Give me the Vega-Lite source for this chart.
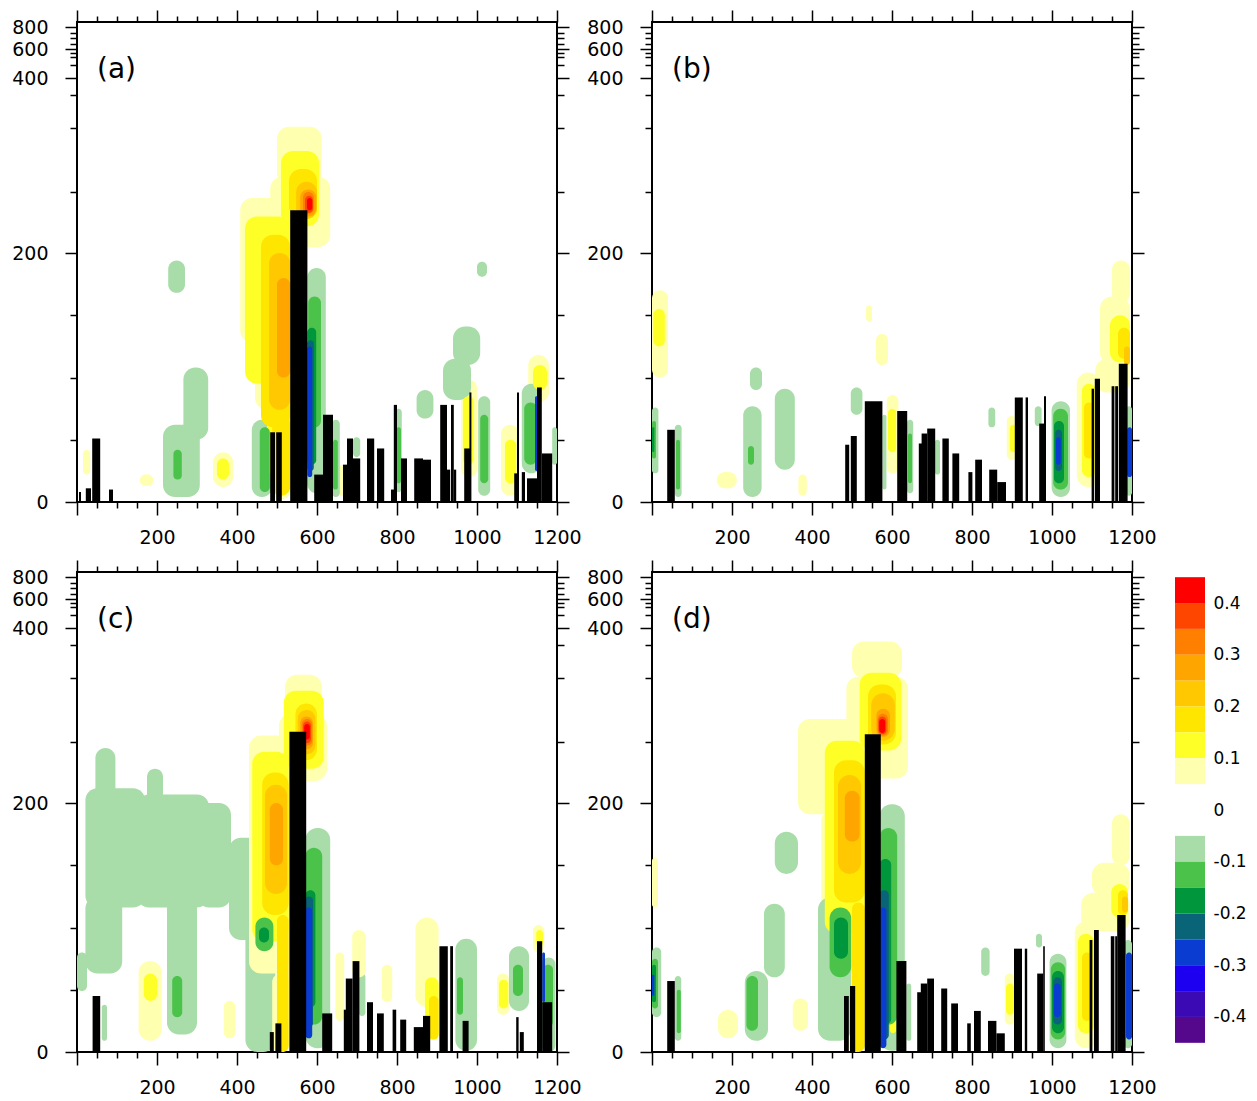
{
"$schema": "https://vega.github.io/schema/vega-lite/v6.json",
"padding": {"left": 10, "top": 8, "right": 0, "bottom": 0},
"background": "white",
"config": {
  "view": {"stroke": "black", "strokeWidth": 2},
  "axis": {"grid": false, "domain": false, "title": null, "labelFont": "DejaVu Sans", "labelFontSize": 19, "labelColor": "black", "tickColor": "black", "tickWidth": 1.5, "labelOverlap": false, "labelFlush": false}
},
"datasets": {
"blobs": [
{"p":"a","x":408,"x2":535,"y":128,"y2":245,"v":0.075},
{"p":"a","x":445,"x2":535,"y":74,"y2":130,"v":0.075},
{"p":"a","x":483,"x2":535,"y":2,"y2":76,"v":0.075},
{"p":"a","x":500,"x2":612,"y":255,"y2":302,"v":0.075},
{"p":"a","x":483,"x2":633,"y":205,"y2":262,"v":0.075},
{"p":"a","x":15,"x2":33,"y":22,"y2":42,"v":0.075},
{"p":"a","x":157,"x2":191,"y":13,"y2":22,"v":0.075},
{"p":"a","x":340,"x2":390,"y":12,"y2":40,"v":0.075},
{"p":"a","x":1128,"x2":1180,"y":80,"y2":118,"v":0.075},
{"p":"a","x":1060,"x2":1105,"y":5,"y2":62,"v":0.075},
{"p":"a","x":960,"x2":1000,"y":20,"y2":98,"v":0.075},
{"p":"a","x":655,"x2":672,"y":5,"y2":30,"v":0.075},
{"p":"a","x":228,"x2":270,"y":168,"y2":194,"v":-0.075},
{"p":"a","x":266,"x2":328,"y":50,"y2":108,"v":-0.075},
{"p":"a","x":215,"x2":307,"y":4,"y2":62,"v":-0.075},
{"p":"a","x":437,"x2":488,"y":4,"y2":66,"v":-0.075},
{"p":"a","x":576,"x2":622,"y":7,"y2":188,"v":-0.075},
{"p":"a","x":940,"x2":1008,"y":110,"y2":141,"v":-0.075},
{"p":"a","x":915,"x2":985,"y":82,"y2":115,"v":-0.075},
{"p":"a","x":849,"x2":891,"y":67,"y2":90,"v":-0.075},
{"p":"a","x":1000,"x2":1025,"y":181,"y2":193,"v":-0.075},
{"p":"a","x":1112,"x2":1160,"y":23,"y2":95,"v":-0.075},
{"p":"a","x":1003,"x2":1033,"y":5,"y2":85,"v":-0.075},
{"p":"a","x":795,"x2":812,"y":8,"y2":75,"v":-0.075},
{"p":"a","x":637,"x2":657,"y":4,"y2":66,"v":-0.075},
{"p":"a","x":690,"x2":708,"y":36,"y2":52,"v":-0.075},
{"p":"a","x":1188,"x2":1200,"y":30,"y2":60,"v":-0.075},
{"p":"a","x":420,"x2":533,"y":95,"y2":230,"v":0.125},
{"p":"a","x":475,"x2":533,"y":20,"y2":100,"v":0.125},
{"p":"a","x":510,"x2":605,"y":222,"y2":282,"v":0.125},
{"p":"a","x":1140,"x2":1175,"y":90,"y2":110,"v":0.125},
{"p":"a","x":1070,"x2":1098,"y":15,"y2":50,"v":0.125},
{"p":"a","x":965,"x2":992,"y":30,"y2":85,"v":0.125},
{"p":"a","x":350,"x2":380,"y":18,"y2":35,"v":0.125},
{"p":"a","x":578,"x2":610,"y":60,"y2":165,"v":-0.125},
{"p":"a","x":241,"x2":262,"y":18,"y2":42,"v":-0.125},
{"p":"a","x":457,"x2":482,"y":8,"y2":60,"v":-0.125},
{"p":"a","x":1118,"x2":1150,"y":30,"y2":80,"v":-0.125},
{"p":"a","x":1008,"x2":1028,"y":15,"y2":70,"v":-0.125},
{"p":"a","x":798,"x2":810,"y":15,"y2":60,"v":-0.125},
{"p":"a","x":640,"x2":652,"y":10,"y2":50,"v":-0.125},
{"p":"a","x":460,"x2":533,"y":60,"y2":215,"v":0.175},
{"p":"a","x":488,"x2":533,"y":5,"y2":70,"v":0.175},
{"p":"a","x":530,"x2":600,"y":228,"y2":268,"v":0.175},
{"p":"a","x":576,"x2":598,"y":30,"y2":140,"v":-0.175},
{"p":"a","x":480,"x2":533,"y":74,"y2":200,"v":0.225},
{"p":"a","x":548,"x2":600,"y":228,"y2":258,"v":0.225},
{"p":"a","x":576,"x2":592,"y":25,"y2":130,"v":-0.225},
{"p":"a","x":500,"x2":533,"y":100,"y2":180,"v":0.275},
{"p":"a","x":558,"x2":598,"y":230,"y2":252,"v":0.275},
{"p":"a","x":576,"x2":588,"y":20,"y2":125,"v":-0.275},
{"p":"a","x":1145,"x2":1152,"y":25,"y2":85,"v":-0.275},
{"p":"a","x":565,"x2":592,"y":232,"y2":250,"v":0.325},
{"p":"a","x":570,"x2":590,"y":233,"y2":247,"v":0.375},
{"p":"a","x":575,"x2":588,"y":235,"y2":245,"v":0.425},

{"p":"b","x":0,"x2":40,"y":100,"y2":170,"v":0.075},
{"p":"b","x":162,"x2":212,"y":11,"y2":24,"v":0.075},
{"p":"b","x":366,"x2":387,"y":5,"y2":22,"v":0.075},
{"p":"b","x":535,"x2":550,"y":145,"y2":158,"v":0.075},
{"p":"b","x":560,"x2":590,"y":110,"y2":135,"v":0.075},
{"p":"b","x":587,"x2":616,"y":23,"y2":86,"v":0.075},
{"p":"b","x":887,"x2":912,"y":34,"y2":69,"v":0.075},
{"p":"b","x":1062,"x2":1120,"y":12,"y2":104,"v":0.075},
{"p":"b","x":1150,"x2":1195,"y":160,"y2":194,"v":0.075},
{"p":"b","x":1120,"x2":1195,"y":110,"y2":165,"v":0.075},
{"p":"b","x":1108,"x2":1195,"y":88,"y2":115,"v":0.075},
{"p":"b","x":0,"x2":16,"y":23,"y2":76,"v":-0.075},
{"p":"b","x":57,"x2":74,"y":4,"y2":62,"v":-0.075},
{"p":"b","x":245,"x2":275,"y":90,"y2":108,"v":-0.075},
{"p":"b","x":228,"x2":274,"y":4,"y2":77,"v":-0.075},
{"p":"b","x":307,"x2":357,"y":26,"y2":91,"v":-0.075},
{"p":"b","x":497,"x2":526,"y":70,"y2":92,"v":-0.075},
{"p":"b","x":576,"x2":586,"y":10,"y2":70,"v":-0.075},
{"p":"b","x":637,"x2":653,"y":7,"y2":66,"v":-0.075},
{"p":"b","x":707,"x2":720,"y":22,"y2":50,"v":-0.075},
{"p":"b","x":841,"x2":858,"y":60,"y2":76,"v":-0.075},
{"p":"b","x":957,"x2":974,"y":61,"y2":77,"v":-0.075},
{"p":"b","x":999,"x2":1045,"y":4,"y2":81,"v":-0.075},
{"p":"b","x":1185,"x2":1200,"y":5,"y2":77,"v":-0.075},
{"p":"b","x":3,"x2":32,"y":125,"y2":155,"v":0.125},
{"p":"b","x":1075,"x2":1110,"y":20,"y2":95,"v":0.125},
{"p":"b","x":1145,"x2":1195,"y":112,"y2":150,"v":0.125},
{"p":"b","x":895,"x2":910,"y":40,"y2":62,"v":0.125},
{"p":"b","x":590,"x2":610,"y":40,"y2":75,"v":0.125},
{"p":"b","x":0,"x2":10,"y":35,"y2":65,"v":-0.125},
{"p":"b","x":60,"x2":70,"y":10,"y2":50,"v":-0.125},
{"p":"b","x":240,"x2":255,"y":30,"y2":45,"v":-0.125},
{"p":"b","x":1003,"x2":1040,"y":10,"y2":75,"v":-0.125},
{"p":"b","x":640,"x2":650,"y":15,"y2":55,"v":-0.125},
{"p":"b","x":1080,"x2":1105,"y":35,"y2":80,"v":0.175},
{"p":"b","x":1165,"x2":1195,"y":115,"y2":140,"v":0.175},
{"p":"b","x":1005,"x2":1030,"y":15,"y2":65,"v":-0.175},
{"p":"b","x":0,"x2":6,"y":40,"y2":60,"v":-0.175},
{"p":"b","x":1180,"x2":1195,"y":110,"y2":125,"v":0.225},
{"p":"b","x":1008,"x2":1025,"y":25,"y2":58,"v":-0.225},
{"p":"b","x":1010,"x2":1022,"y":30,"y2":52,"v":-0.275},
{"p":"b","x":1188,"x2":1200,"y":20,"y2":60,"v":-0.275},

{"p":"c","x":21,"x2":170,"y":116,"y2":212,"v":-0.075},
{"p":"c","x":150,"x2":330,"y":116,"y2":207,"v":-0.075},
{"p":"c","x":300,"x2":385,"y":116,"y2":200,"v":-0.075},
{"p":"c","x":46,"x2":96,"y":195,"y2":245,"v":-0.075},
{"p":"c","x":175,"x2":215,"y":190,"y2":228,"v":-0.075},
{"p":"c","x":380,"x2":496,"y":90,"y2":172,"v":-0.075},
{"p":"c","x":21,"x2":113,"y":63,"y2":125,"v":-0.075},
{"p":"c","x":225,"x2":300,"y":14,"y2":125,"v":-0.075},
{"p":"c","x":421,"x2":496,"y":0,"y2":100,"v":-0.075},
{"p":"c","x":0,"x2":25,"y":49,"y2":80,"v":-0.075},
{"p":"c","x":62,"x2":75,"y":9,"y2":38,"v":-0.075},
{"p":"c","x":571,"x2":633,"y":3,"y2":180,"v":-0.075},
{"p":"c","x":704,"x2":721,"y":29,"y2":63,"v":-0.075},
{"p":"c","x":946,"x2":1000,"y":1,"y2":91,"v":-0.075},
{"p":"c","x":1080,"x2":1130,"y":33,"y2":85,"v":-0.075},
{"p":"c","x":1163,"x2":1196,"y":0,"y2":76,"v":-0.075},
{"p":"c","x":430,"x2":530,"y":63,"y2":255,"v":0.075},
{"p":"c","x":488,"x2":530,"y":0,"y2":63,"v":0.075},
{"p":"c","x":520,"x2":612,"y":270,"y2":305,"v":0.075},
{"p":"c","x":505,"x2":625,"y":218,"y2":272,"v":0.075},
{"p":"c","x":154,"x2":212,"y":9,"y2":73,"v":0.075},
{"p":"c","x":367,"x2":396,"y":11,"y2":41,"v":0.075},
{"p":"c","x":688,"x2":722,"y":60,"y2":98,"v":0.075},
{"p":"c","x":646,"x2":668,"y":25,"y2":80,"v":0.075},
{"p":"c","x":762,"x2":788,"y":40,"y2":70,"v":0.075},
{"p":"c","x":846,"x2":904,"y":36,"y2":108,"v":0.075},
{"p":"c","x":1050,"x2":1080,"y":30,"y2":63,"v":0.075},
{"p":"c","x":1140,"x2":1168,"y":80,"y2":102,"v":0.075},
{"p":"c","x":438,"x2":529,"y":89,"y2":242,"v":0.125},
{"p":"c","x":517,"x2":617,"y":228,"y2":290,"v":0.125},
{"p":"c","x":167,"x2":200,"y":41,"y2":63,"v":0.125},
{"p":"c","x":870,"x2":904,"y":10,"y2":60,"v":0.125},
{"p":"c","x":1055,"x2":1078,"y":35,"y2":58,"v":0.125},
{"p":"c","x":1148,"x2":1165,"y":85,"y2":98,"v":0.125},
{"p":"c","x":446,"x2":491,"y":81,"y2":108,"v":-0.125},
{"p":"c","x":238,"x2":263,"y":28,"y2":61,"v":-0.125},
{"p":"c","x":571,"x2":613,"y":22,"y2":164,"v":-0.125},
{"p":"c","x":950,"x2":965,"y":30,"y2":60,"v":-0.125},
{"p":"c","x":1090,"x2":1115,"y":45,"y2":70,"v":-0.125},
{"p":"c","x":1165,"x2":1190,"y":20,"y2":70,"v":-0.125},
{"p":"c","x":463,"x2":529,"y":110,"y2":225,"v":0.175},
{"p":"c","x":500,"x2":529,"y":0,"y2":110,"v":0.175},
{"p":"c","x":546,"x2":600,"y":235,"y2":280,"v":0.175},
{"p":"c","x":880,"x2":904,"y":10,"y2":45,"v":0.175},
{"p":"c","x":571,"x2":596,"y":36,"y2":130,"v":-0.175},
{"p":"c","x":455,"x2":480,"y":88,"y2":100,"v":-0.175},
{"p":"c","x":470,"x2":525,"y":127,"y2":215,"v":0.225},
{"p":"c","x":552,"x2":596,"y":240,"y2":275,"v":0.225},
{"p":"c","x":571,"x2":590,"y":20,"y2":125,"v":-0.225},
{"p":"c","x":482,"x2":515,"y":150,"y2":200,"v":0.275},
{"p":"c","x":558,"x2":590,"y":244,"y2":270,"v":0.275},
{"p":"c","x":571,"x2":588,"y":11,"y2":116,"v":-0.275},
{"p":"c","x":1163,"x2":1170,"y":40,"y2":80,"v":-0.275},
{"p":"c","x":562,"x2":588,"y":247,"y2":268,"v":0.325},
{"p":"c","x":565,"x2":585,"y":249,"y2":266,"v":0.375},
{"p":"c","x":568,"x2":582,"y":252,"y2":264,"v":0.425},

{"p":"d","x":500,"x2":625,"y":300,"y2":360,"v":0.075},
{"p":"d","x":486,"x2":640,"y":220,"y2":302,"v":0.075},
{"p":"d","x":365,"x2":532,"y":191,"y2":268,"v":0.075},
{"p":"d","x":423,"x2":532,"y":89,"y2":195,"v":0.075},
{"p":"d","x":488,"x2":532,"y":0,"y2":95,"v":0.075},
{"p":"d","x":165,"x2":215,"y":11,"y2":34,"v":0.075},
{"p":"d","x":352,"x2":390,"y":17,"y2":43,"v":0.075},
{"p":"d","x":0,"x2":15,"y":116,"y2":156,"v":0.075},
{"p":"d","x":1057,"x2":1115,"y":3,"y2":105,"v":0.075},
{"p":"d","x":1150,"x2":1194,"y":150,"y2":191,"v":0.075},
{"p":"d","x":1100,"x2":1194,"y":125,"y2":152,"v":0.075},
{"p":"d","x":1073,"x2":1194,"y":97,"y2":128,"v":0.075},
{"p":"d","x":882,"x2":907,"y":22,"y2":63,"v":0.075},
{"p":"d","x":590,"x2":613,"y":9,"y2":55,"v":0.075},
{"p":"d","x":569,"x2":632,"y":1,"y2":199,"v":-0.075},
{"p":"d","x":415,"x2":498,"y":9,"y2":124,"v":-0.075},
{"p":"d","x":307,"x2":365,"y":143,"y2":177,"v":-0.075},
{"p":"d","x":280,"x2":332,"y":60,"y2":119,"v":-0.075},
{"p":"d","x":232,"x2":290,"y":9,"y2":65,"v":-0.075},
{"p":"d","x":0,"x2":23,"y":28,"y2":84,"v":-0.075},
{"p":"d","x":57,"x2":73,"y":9,"y2":61,"v":-0.075},
{"p":"d","x":994,"x2":1036,"y":3,"y2":79,"v":-0.075},
{"p":"d","x":823,"x2":844,"y":61,"y2":84,"v":-0.075},
{"p":"d","x":1180,"x2":1200,"y":3,"y2":90,"v":-0.075},
{"p":"d","x":636,"x2":648,"y":9,"y2":55,"v":-0.075},
{"p":"d","x":960,"x2":975,"y":84,"y2":95,"v":-0.075},
{"p":"d","x":432,"x2":532,"y":95,"y2":251,"v":0.125},
{"p":"d","x":519,"x2":623,"y":243,"y2":308,"v":0.125},
{"p":"d","x":1065,"x2":1105,"y":15,"y2":95,"v":0.125},
{"p":"d","x":1148,"x2":1190,"y":108,"y2":135,"v":0.125},
{"p":"d","x":885,"x2":905,"y":30,"y2":55,"v":0.125},
{"p":"d","x":595,"x2":610,"y":15,"y2":45,"v":0.125},
{"p":"d","x":444,"x2":498,"y":60,"y2":116,"v":-0.125},
{"p":"d","x":236,"x2":265,"y":17,"y2":61,"v":-0.125},
{"p":"d","x":569,"x2":613,"y":22,"y2":180,"v":-0.125},
{"p":"d","x":997,"x2":1033,"y":10,"y2":72,"v":-0.125},
{"p":"d","x":0,"x2":15,"y":35,"y2":75,"v":-0.125},
{"p":"d","x":62,"x2":72,"y":15,"y2":50,"v":-0.125},
{"p":"d","x":455,"x2":532,"y":120,"y2":235,"v":0.175},
{"p":"d","x":500,"x2":532,"y":0,"y2":120,"v":0.175},
{"p":"d","x":540,"x2":610,"y":248,"y2":295,"v":0.175},
{"p":"d","x":1075,"x2":1100,"y":25,"y2":80,"v":0.175},
{"p":"d","x":1165,"x2":1190,"y":110,"y2":130,"v":0.175},
{"p":"d","x":455,"x2":490,"y":75,"y2":108,"v":-0.175},
{"p":"d","x":569,"x2":598,"y":22,"y2":155,"v":-0.175},
{"p":"d","x":1000,"x2":1030,"y":15,"y2":65,"v":-0.175},
{"p":"d","x":0,"x2":10,"y":40,"y2":70,"v":-0.175},
{"p":"d","x":465,"x2":523,"y":143,"y2":223,"v":0.225},
{"p":"d","x":548,"x2":607,"y":251,"y2":288,"v":0.225},
{"p":"d","x":1175,"x2":1190,"y":112,"y2":125,"v":0.225},
{"p":"d","x":569,"x2":592,"y":10,"y2":130,"v":-0.225},
{"p":"d","x":1003,"x2":1025,"y":22,"y2":60,"v":-0.225},
{"p":"d","x":482,"x2":519,"y":169,"y2":210,"v":0.275},
{"p":"d","x":561,"x2":595,"y":254,"y2":276,"v":0.275},
{"p":"d","x":569,"x2":586,"y":3,"y2":116,"v":-0.275},
{"p":"d","x":1005,"x2":1022,"y":28,"y2":55,"v":-0.275},
{"p":"d","x":1185,"x2":1200,"y":10,"y2":80,"v":-0.275},
{"p":"d","x":0,"x2":6,"y":45,"y2":62,"v":-0.275},
{"p":"d","x":564,"x2":590,"y":255,"y2":272,"v":0.325},
{"p":"d","x":566,"x2":586,"y":256,"y2":270,"v":0.375},
{"p":"d","x":568,"x2":583,"y":257,"y2":268,"v":0.425}
],
"bldg": [
{"p":"a","x":5,"x2":10,"h":8},{"p":"a","x":22,"x2":35,"h":11},{"p":"a","x":38,"x2":58,"h":51},{"p":"a","x":80,"x2":90,"h":10},
{"p":"a","x":483,"x2":495,"h":56},{"p":"a","x":498,"x2":512,"h":56},{"p":"a","x":533,"x2":576,"h":235},{"p":"a","x":593,"x2":615,"h":22},
{"p":"a","x":615,"x2":640,"h":70},{"p":"a","x":665,"x2":675,"h":30},{"p":"a","x":675,"x2":690,"h":51},{"p":"a","x":688,"x2":708,"h":35},
{"p":"a","x":725,"x2":743,"h":51},{"p":"a","x":750,"x2":768,"h":43},{"p":"a","x":785,"x2":793,"h":10},{"p":"a","x":792,"x2":800,"h":78},
{"p":"a","x":810,"x2":825,"h":35},{"p":"a","x":843,"x2":865,"h":35},{"p":"a","x":865,"x2":885,"h":34},{"p":"a","x":908,"x2":925,"h":78},
{"p":"a","x":925,"x2":933,"h":26},{"p":"a","x":935,"x2":942,"h":78},{"p":"a","x":942,"x2":948,"h":26},{"p":"a","x":968,"x2":983,"h":43},
{"p":"a","x":981,"x2":986,"h":88},{"p":"a","x":1093,"x2":1105,"h":23},{"p":"a","x":1100,"x2":1105,"h":88},{"p":"a","x":1112,"x2":1120,"h":24},
{"p":"a","x":1125,"x2":1157,"h":19},{"p":"a","x":1150,"x2":1162,"h":92},{"p":"a","x":1162,"x2":1188,"h":39},

{"p":"b","x":38,"x2":57,"h":58},{"p":"b","x":483,"x2":493,"h":46},{"p":"b","x":497,"x2":512,"h":53},{"p":"b","x":532,"x2":576,"h":81},
{"p":"b","x":613,"x2":638,"h":73},{"p":"b","x":667,"x2":677,"h":47},{"p":"b","x":674,"x2":688,"h":55},{"p":"b","x":688,"x2":708,"h":59},
{"p":"b","x":726,"x2":742,"h":51},{"p":"b","x":751,"x2":768,"h":39},{"p":"b","x":791,"x2":801,"h":24},{"p":"b","x":808,"x2":825,"h":34},
{"p":"b","x":843,"x2":863,"h":26},{"p":"b","x":863,"x2":885,"h":16},{"p":"b","x":907,"x2":927,"h":84},{"p":"b","x":934,"x2":940,"h":84},
{"p":"b","x":968,"x2":981,"h":63},{"p":"b","x":980,"x2":985,"h":85},{"p":"b","x":1099,"x2":1105,"h":91},{"p":"b","x":1107,"x2":1120,"h":99},
{"p":"b","x":1149,"x2":1156,"h":93},{"p":"b","x":1158,"x2":1165,"h":93},{"p":"b","x":1167,"x2":1189,"h":111},

{"p":"c","x":39,"x2":58,"h":45},{"p":"c","x":482,"x2":492,"h":16},{"p":"c","x":496,"x2":511,"h":23},{"p":"c","x":531,"x2":573,"h":258},
{"p":"c","x":613,"x2":638,"h":31},{"p":"c","x":667,"x2":675,"h":34},{"p":"c","x":672,"x2":689,"h":59},{"p":"c","x":689,"x2":706,"h":73},
{"p":"c","x":725,"x2":740,"h":40},{"p":"c","x":750,"x2":767,"h":31},{"p":"c","x":789,"x2":798,"h":34},{"p":"c","x":808,"x2":823,"h":26},
{"p":"c","x":842,"x2":865,"h":20},{"p":"c","x":865,"x2":883,"h":29},{"p":"c","x":906,"x2":927,"h":85},{"p":"c","x":933,"x2":940,"h":85},
{"p":"c","x":964,"x2":979,"h":25},{"p":"c","x":1098,"x2":1104,"h":28},{"p":"c","x":1107,"x2":1117,"h":16},{"p":"c","x":1150,"x2":1163,"h":89},
{"p":"c","x":1163,"x2":1188,"h":40},

{"p":"d","x":38,"x2":57,"h":57},{"p":"d","x":480,"x2":492,"h":45},{"p":"d","x":495,"x2":508,"h":53},{"p":"d","x":532,"x2":572,"h":256},
{"p":"d","x":611,"x2":636,"h":73},{"p":"d","x":663,"x2":675,"h":48},{"p":"d","x":672,"x2":688,"h":55},{"p":"d","x":688,"x2":705,"h":59},
{"p":"d","x":723,"x2":738,"h":51},{"p":"d","x":748,"x2":765,"h":39},{"p":"d","x":788,"x2":797,"h":23},{"p":"d","x":805,"x2":822,"h":33},
{"p":"d","x":840,"x2":861,"h":25},{"p":"d","x":861,"x2":882,"h":15},{"p":"d","x":905,"x2":925,"h":83},{"p":"d","x":932,"x2":938,"h":83},
{"p":"d","x":963,"x2":978,"h":63},{"p":"d","x":978,"x2":982,"h":85},{"p":"d","x":1094,"x2":1101,"h":90},{"p":"d","x":1105,"x2":1117,"h":98},
{"p":"d","x":1147,"x2":1156,"h":93},{"p":"d","x":1158,"x2":1163,"h":93},{"p":"d","x":1163,"x2":1184,"h":110}
],
"cbar": [
{"lo":0.4,"hi":0.45,"v":0.425},{"lo":0.35,"hi":0.4,"v":0.375},{"lo":0.3,"hi":0.35,"v":0.325},{"lo":0.25,"hi":0.3,"v":0.275},
{"lo":0.2,"hi":0.25,"v":0.225},{"lo":0.15,"hi":0.2,"v":0.175},{"lo":0.1,"hi":0.15,"v":0.125},{"lo":0.05,"hi":0.1,"v":0.075},
{"lo":-0.1,"hi":-0.05,"v":-0.075},{"lo":-0.15,"hi":-0.1,"v":-0.125},{"lo":-0.2,"hi":-0.15,"v":-0.175},{"lo":-0.25,"hi":-0.2,"v":-0.225},
{"lo":-0.3,"hi":-0.25,"v":-0.275},{"lo":-0.35,"hi":-0.3,"v":-0.325},{"lo":-0.4,"hi":-0.35,"v":-0.375},{"lo":-0.45,"hi":-0.4,"v":-0.425}
]
},
"spacing": 10,
"vconcat": [
{"spacing": 2, "hconcat": [
{"width": 480, "height": 480,
 "layer": [
  {"data": {"name": "blobs"}, "transform": [{"filter": "datum.p == 'a'"}], "mark": {"type": "rect", "cornerRadius": 12, "clip": true},
   "encoding": {
    "x": {"field": "x", "type": "quantitative", "scale": {"domain": [0, 1200], "nice": false, "zero": false}, "axis": {"orient": "bottom", "format": "d", "values": [0,50,100,150,200,250,300,350,400,450,500,550,600,650,700,750,800,850,900,950,1000,1050,1100,1150,1200], "labelExpr": "datum.value % 200 == 0 && datum.value > 0 ? datum.label : ''", "tickSize": {"condition": {"test": "datum.value % 200 == 0", "value": 13}, "value": 6}, "labelPadding": 13}},
    "x2": {"field": "x2"},
    "y": {"field": "y", "type": "quantitative", "scale": {"domain": [0,200,250,300,350,400,450,500,600,700,800,900], "range": [480,231,170,106,73,56,43,35,27,16,5,0], "nice": false, "zero": false}, "axis": {"orient": "left", "format": "d", "values": [0,50,100,150,200,250,300,350,400,450,500,550,600,650,700,750,800], "labelExpr": "datum.value % 200 == 0 ? datum.label : ''", "tickSize": {"condition": {"test": "datum.value % 200 == 0", "value": 12}, "value": 7}, "labelPadding": 17}},
    "y2": {"field": "y2"},
    "color": {"field": "v", "type": "quantitative", "legend": null, "scale": {"type": "threshold", "domain": [-0.4,-0.35,-0.3,-0.25,-0.2,-0.15,-0.1,-0.05,0.05,0.1,0.15,0.2,0.25,0.3,0.35,0.4], "range": ["#55088c","#3c0ab4","#1e00f0","#0a3cd2","#0a6478","#00963c","#4bc34b","#a8dca8","#ffffff","#ffffb0","#ffff28","#ffe600","#ffc800","#ffa500","#ff8000","#ff4600","#ff0000"]}}
   }},
  {"data": {"name": "bldg"}, "transform": [{"filter": "datum.p == 'a'"}], "mark": {"type": "rect", "color": "black"},
   "encoding": {
    "x": {"field": "x", "type": "quantitative", "axis": {"orient": "top", "values": [0,50,100,150,200,250,300,350,400,450,500,550,600,650,700,750,800,850,900,950,1000,1050,1100,1150,1200], "labels": false, "tickSize": {"condition": {"test": "datum.value % 200 == 0", "value": 12}, "value": 6}}},
    "x2": {"field": "x2"},
    "y": {"field": "h", "type": "quantitative", "axis": {"orient": "right", "values": [0,50,100,150,200,250,300,350,400,450,500,550,600,650,700,750,800], "labels": false, "tickSize": {"condition": {"test": "datum.value % 200 == 0", "value": 12}, "value": 7}}},
    "y2": {"datum": 0}
   }},
  {"data": {"values": [{"t": "(a)"}]}, "mark": {"type": "text", "align": "left", "baseline": "middle", "fontSize": 28, "font": "DejaVu Sans", "color": "black"},
   "encoding": {"x": {"datum": 50, "type": "quantitative", "axis": null}, "y": {"datum": 430, "type": "quantitative", "axis": null}, "text": {"field": "t"}}}
 ],
 "resolve": {"axis": {"x": "independent", "y": "independent"}}
},
{"width": 480, "height": 480,
 "layer": [
  {"data": {"name": "blobs"}, "transform": [{"filter": "datum.p == 'b'"}], "mark": {"type": "rect", "cornerRadius": 12, "clip": true},
   "encoding": {
    "x": {"field": "x", "type": "quantitative", "scale": {"domain": [0, 1200], "nice": false, "zero": false}, "axis": {"orient": "bottom", "format": "d", "values": [0,50,100,150,200,250,300,350,400,450,500,550,600,650,700,750,800,850,900,950,1000,1050,1100,1150,1200], "labelExpr": "datum.value % 200 == 0 && datum.value > 0 ? datum.label : ''", "tickSize": {"condition": {"test": "datum.value % 200 == 0", "value": 13}, "value": 6}, "labelPadding": 13}},
    "x2": {"field": "x2"},
    "y": {"field": "y", "type": "quantitative", "scale": {"domain": [0,200,250,300,350,400,450,500,600,700,800,900], "range": [480,231,170,106,73,56,43,35,27,16,5,0], "nice": false, "zero": false}, "axis": {"orient": "left", "format": "d", "values": [0,50,100,150,200,250,300,350,400,450,500,550,600,650,700,750,800], "labelExpr": "datum.value % 200 == 0 ? datum.label : ''", "tickSize": {"condition": {"test": "datum.value % 200 == 0", "value": 12}, "value": 7}, "labelPadding": 17}},
    "y2": {"field": "y2"},
    "color": {"field": "v", "type": "quantitative", "legend": null, "scale": {"type": "threshold", "domain": [-0.4,-0.35,-0.3,-0.25,-0.2,-0.15,-0.1,-0.05,0.05,0.1,0.15,0.2,0.25,0.3,0.35,0.4], "range": ["#55088c","#3c0ab4","#1e00f0","#0a3cd2","#0a6478","#00963c","#4bc34b","#a8dca8","#ffffff","#ffffb0","#ffff28","#ffe600","#ffc800","#ffa500","#ff8000","#ff4600","#ff0000"]}}
   }},
  {"data": {"name": "bldg"}, "transform": [{"filter": "datum.p == 'b'"}], "mark": {"type": "rect", "color": "black"},
   "encoding": {
    "x": {"field": "x", "type": "quantitative", "axis": {"orient": "top", "values": [0,50,100,150,200,250,300,350,400,450,500,550,600,650,700,750,800,850,900,950,1000,1050,1100,1150,1200], "labels": false, "tickSize": {"condition": {"test": "datum.value % 200 == 0", "value": 12}, "value": 6}}},
    "x2": {"field": "x2"},
    "y": {"field": "h", "type": "quantitative", "axis": {"orient": "right", "values": [0,50,100,150,200,250,300,350,400,450,500,550,600,650,700,750,800], "labels": false, "tickSize": {"condition": {"test": "datum.value % 200 == 0", "value": 12}, "value": 7}}},
    "y2": {"datum": 0}
   }},
  {"data": {"values": [{"t": "(b)"}]}, "mark": {"type": "text", "align": "left", "baseline": "middle", "fontSize": 28, "font": "DejaVu Sans", "color": "black"},
   "encoding": {"x": {"datum": 50, "type": "quantitative", "axis": null}, "y": {"datum": 430, "type": "quantitative", "axis": null}, "text": {"field": "t"}}}
 ],
 "resolve": {"axis": {"x": "independent", "y": "independent"}}
}
]},
{"spacing": 2, "hconcat": [
{"width": 480, "height": 480,
 "layer": [
  {"data": {"name": "blobs"}, "transform": [{"filter": "datum.p == 'c'"}], "mark": {"type": "rect", "cornerRadius": 12, "clip": true},
   "encoding": {
    "x": {"field": "x", "type": "quantitative", "scale": {"domain": [0, 1200], "nice": false, "zero": false}, "axis": {"orient": "bottom", "format": "d", "values": [0,50,100,150,200,250,300,350,400,450,500,550,600,650,700,750,800,850,900,950,1000,1050,1100,1150,1200], "labelExpr": "datum.value % 200 == 0 && datum.value > 0 ? datum.label : ''", "tickSize": {"condition": {"test": "datum.value % 200 == 0", "value": 13}, "value": 6}, "labelPadding": 13}},
    "x2": {"field": "x2"},
    "y": {"field": "y", "type": "quantitative", "scale": {"domain": [0,200,250,300,350,400,450,500,600,700,800,900], "range": [480,231,170,106,73,56,43,35,27,16,5,0], "nice": false, "zero": false}, "axis": {"orient": "left", "format": "d", "values": [0,50,100,150,200,250,300,350,400,450,500,550,600,650,700,750,800], "labelExpr": "datum.value % 200 == 0 ? datum.label : ''", "tickSize": {"condition": {"test": "datum.value % 200 == 0", "value": 12}, "value": 7}, "labelPadding": 17}},
    "y2": {"field": "y2"},
    "color": {"field": "v", "type": "quantitative", "legend": null, "scale": {"type": "threshold", "domain": [-0.4,-0.35,-0.3,-0.25,-0.2,-0.15,-0.1,-0.05,0.05,0.1,0.15,0.2,0.25,0.3,0.35,0.4], "range": ["#55088c","#3c0ab4","#1e00f0","#0a3cd2","#0a6478","#00963c","#4bc34b","#a8dca8","#ffffff","#ffffb0","#ffff28","#ffe600","#ffc800","#ffa500","#ff8000","#ff4600","#ff0000"]}}
   }},
  {"data": {"name": "bldg"}, "transform": [{"filter": "datum.p == 'c'"}], "mark": {"type": "rect", "color": "black"},
   "encoding": {
    "x": {"field": "x", "type": "quantitative", "axis": {"orient": "top", "values": [0,50,100,150,200,250,300,350,400,450,500,550,600,650,700,750,800,850,900,950,1000,1050,1100,1150,1200], "labels": false, "tickSize": {"condition": {"test": "datum.value % 200 == 0", "value": 12}, "value": 6}}},
    "x2": {"field": "x2"},
    "y": {"field": "h", "type": "quantitative", "axis": {"orient": "right", "values": [0,50,100,150,200,250,300,350,400,450,500,550,600,650,700,750,800], "labels": false, "tickSize": {"condition": {"test": "datum.value % 200 == 0", "value": 12}, "value": 7}}},
    "y2": {"datum": 0}
   }},
  {"data": {"values": [{"t": "(c)"}]}, "mark": {"type": "text", "align": "left", "baseline": "middle", "fontSize": 28, "font": "DejaVu Sans", "color": "black"},
   "encoding": {"x": {"datum": 50, "type": "quantitative", "axis": null}, "y": {"datum": 430, "type": "quantitative", "axis": null}, "text": {"field": "t"}}}
 ],
 "resolve": {"axis": {"x": "independent", "y": "independent"}}
},
{"width": 480, "height": 480,
 "layer": [
  {"data": {"name": "blobs"}, "transform": [{"filter": "datum.p == 'd'"}], "mark": {"type": "rect", "cornerRadius": 12, "clip": true},
   "encoding": {
    "x": {"field": "x", "type": "quantitative", "scale": {"domain": [0, 1200], "nice": false, "zero": false}, "axis": {"orient": "bottom", "format": "d", "values": [0,50,100,150,200,250,300,350,400,450,500,550,600,650,700,750,800,850,900,950,1000,1050,1100,1150,1200], "labelExpr": "datum.value % 200 == 0 && datum.value > 0 ? datum.label : ''", "tickSize": {"condition": {"test": "datum.value % 200 == 0", "value": 13}, "value": 6}, "labelPadding": 13}},
    "x2": {"field": "x2"},
    "y": {"field": "y", "type": "quantitative", "scale": {"domain": [0,200,250,300,350,400,450,500,600,700,800,900], "range": [480,231,170,106,73,56,43,35,27,16,5,0], "nice": false, "zero": false}, "axis": {"orient": "left", "format": "d", "values": [0,50,100,150,200,250,300,350,400,450,500,550,600,650,700,750,800], "labelExpr": "datum.value % 200 == 0 ? datum.label : ''", "tickSize": {"condition": {"test": "datum.value % 200 == 0", "value": 12}, "value": 7}, "labelPadding": 17}},
    "y2": {"field": "y2"},
    "color": {"field": "v", "type": "quantitative", "legend": null, "scale": {"type": "threshold", "domain": [-0.4,-0.35,-0.3,-0.25,-0.2,-0.15,-0.1,-0.05,0.05,0.1,0.15,0.2,0.25,0.3,0.35,0.4], "range": ["#55088c","#3c0ab4","#1e00f0","#0a3cd2","#0a6478","#00963c","#4bc34b","#a8dca8","#ffffff","#ffffb0","#ffff28","#ffe600","#ffc800","#ffa500","#ff8000","#ff4600","#ff0000"]}}
   }},
  {"data": {"name": "bldg"}, "transform": [{"filter": "datum.p == 'd'"}], "mark": {"type": "rect", "color": "black"},
   "encoding": {
    "x": {"field": "x", "type": "quantitative", "axis": {"orient": "top", "values": [0,50,100,150,200,250,300,350,400,450,500,550,600,650,700,750,800,850,900,950,1000,1050,1100,1150,1200], "labels": false, "tickSize": {"condition": {"test": "datum.value % 200 == 0", "value": 12}, "value": 6}}},
    "x2": {"field": "x2"},
    "y": {"field": "h", "type": "quantitative", "axis": {"orient": "right", "values": [0,50,100,150,200,250,300,350,400,450,500,550,600,650,700,750,800], "labels": false, "tickSize": {"condition": {"test": "datum.value % 200 == 0", "value": 12}, "value": 7}}},
    "y2": {"datum": 0}
   }},
  {"data": {"values": [{"t": "(d)"}]}, "mark": {"type": "text", "align": "left", "baseline": "middle", "fontSize": 28, "font": "DejaVu Sans", "color": "black"},
   "encoding": {"x": {"datum": 50, "type": "quantitative", "axis": null}, "y": {"datum": 430, "type": "quantitative", "axis": null}, "text": {"field": "t"}}}
 ],
 "resolve": {"axis": {"x": "independent", "y": "independent"}}
},
{"width": 45, "height": 476,
 "view": {"stroke": null},
 "data": {"name": "cbar"},
 "mark": {"type": "rect"},
 "encoding": {
  "x": {"datum": 0, "type": "quantitative", "scale": {"domain": [-15, 30], "nice": false, "zero": false}, "axis": null},
  "x2": {"datum": 30},
  "y": {"field": "lo", "type": "quantitative", "scale": {"domain": [-0.46, 0.46], "nice": false, "zero": false}, "axis": {"orient": "right", "values": [-0.4,-0.3,-0.2,-0.1,0,0.1,0.2,0.3,0.4], "ticks": false, "labelPadding": 8, "labelFontSize": 17, "labelExpr": "datum.value == 0 ? '0' : (datum.value < 0 ? '-' + format(-datum.value, '.1f') : format(datum.value, '.1f'))"}},
  "y2": {"field": "hi"},
  "color": {"field": "v", "type": "quantitative", "legend": null, "scale": {"type": "threshold", "domain": [-0.4,-0.35,-0.3,-0.25,-0.2,-0.15,-0.1,-0.05,0.05,0.1,0.15,0.2,0.25,0.3,0.35,0.4], "range": ["#55088c","#3c0ab4","#1e00f0","#0a3cd2","#0a6478","#00963c","#4bc34b","#a8dca8","#ffffff","#ffffb0","#ffff28","#ffe600","#ffc800","#ffa500","#ff8000","#ff4600","#ff0000"]}}
 }
}
]}
]
}
